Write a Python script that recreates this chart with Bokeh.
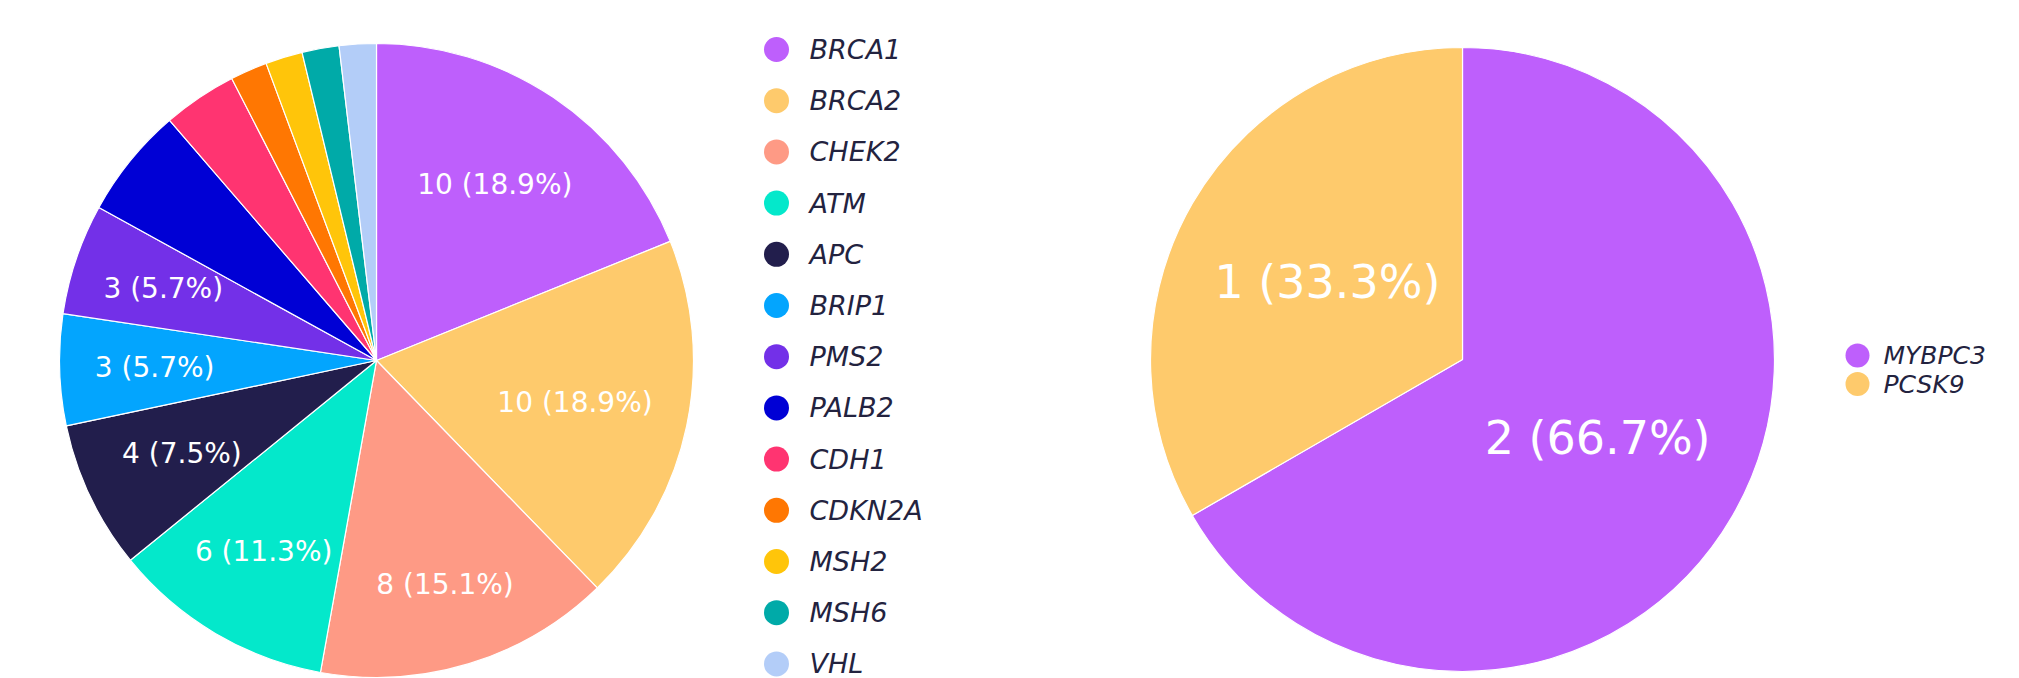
import numpy as np
from bokeh.plotting import figure
from bokeh.models import Range1d, ColumnDataSource
from bokeh.core.properties import value
from bokeh.embed import file_html
from bokeh.resources import INLINE

# ---- data ----
genes_a = ["BRCA1", "BRCA2", "CHEK2", "ATM", "APC", "BRIP1", "PMS2",
           "PALB2", "CDH1", "CDKN2A", "MSH2", "MSH6", "VHL"]
counts_a = [10, 10, 8, 6, 4, 3, 3, 3, 2, 1, 1, 1, 1]
colors_a = ["#BE5FFC", "#FECA6C", "#FE9A85", "#04E8CB", "#221E4C", "#03A5FE",
            "#7330E8", "#0000D5", "#FF3471", "#FF7702", "#FFC50A", "#00AAA8",
            "#B3CDF8"]
genes_b = ["MYBPC3", "PCSK9"]
counts_b = [2, 1]
colors_b = ["#BE5FFC", "#FECA6C"]

# ---- layout / style ----
W, H = 2019, 678
def px(x):  # page x -> data x
    return x
def py(y):  # page y -> data y
    return H - y

shown_a = 7                       # slices with inside labels (left pie)
label_r_a = [0.668, 0.64, 0.74, 0.70, 0.68, 0.70, 0.71]
label_r_b = [0.50, 0.50]

p = figure(width=W, height=H, x_range=Range1d(0, W), y_range=Range1d(0, H),
           output_backend="svg", toolbar_location=None, min_border=0,
           background_fill_color="white", border_fill_color="white")
p.axis.visible = False
p.grid.visible = False
p.outline_line_color = None


def pie(cx, cy, r, counts, colors, label_r, nshow, fsize):
    counts = np.array(counts, dtype=float)
    tot = counts.sum()
    cum = np.concatenate([[0], np.cumsum(counts)]) / tot
    start = np.pi / 2 - 2 * np.pi * cum[1:]
    end = np.pi / 2 - 2 * np.pi * cum[:-1]
    src = ColumnDataSource(dict(x=[cx] * len(counts), y=[cy] * len(counts),
                                s=start, e=end, c=colors))
    p.wedge(x="x", y="y", radius=r, start_angle="s", end_angle="e",
            fill_color="c", line_color="white", line_width=1.2,
            direction="anticlock", source=src)
    mid = np.pi / 2 - 2 * np.pi * (cum[:-1] + cum[1:]) / 2
    lx, ly, lt = [], [], []
    for i in range(nshow):
        lx.append(cx + label_r[i] * r * np.cos(mid[i]))
        ly.append(cy + label_r[i] * r * np.sin(mid[i]))
        lt.append(f"{int(counts[i])} ({100 * counts[i] / tot:.1f}%)")
    p.text(x=lx, y=ly, text=lt, text_color="white", text_align="center",
           text_baseline="middle", text_font=value("DejaVu Sans"),
           text_font_size=fsize)


pie(px(376), py(360), 317, counts_a, colors_a, label_r_a, shown_a, "28px")
pie(px(1462), py(359), 312, counts_b, colors_b, label_r_b, len(counts_b), "46px")


def legend(mx, tx, y0, dy, names, colors, msize, fsize):
    ys = [y0 - i * dy for i in range(len(names))]
    p.scatter(x=[mx] * len(names), y=ys, size=msize, marker="circle",
              fill_color=colors, line_color=None)
    p.text(x=[tx] * len(names), y=ys, text=names, text_color="#23233F",
           text_align="left", text_baseline="middle",
           text_font=value("DejaVu Sans"), text_font_style="italic",
           text_font_size=fsize)


legend(px(776), px(809), py(49), 51.2, genes_a, colors_a, 25, "27px")
legend(px(1857), px(1883), py(355), 28.5, genes_b, colors_b, 24, "25px")

open("out.html", "w").write(file_html(p, INLINE))
